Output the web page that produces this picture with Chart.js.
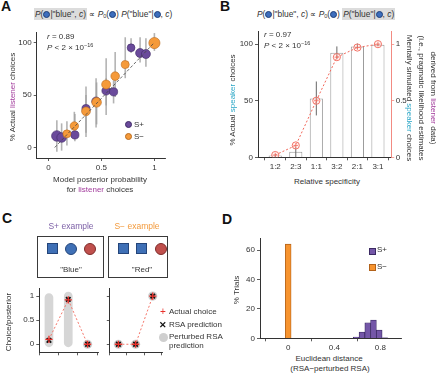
<!DOCTYPE html>
<html><head><meta charset="utf-8">
<script src="https://cdn.jsdelivr.net/npm/chart.js@4/dist/chart.umd.min.js"></script>
<style>
body{margin:0;width:440px;height:373px;position:relative;background:#fff;font-family:"Liberation Sans",Arial,Helvetica,sans-serif;color:#333;overflow:hidden}
canvas{position:absolute}
.t{position:absolute;font-size:8px;white-space:nowrap;line-height:1;color:#333}
.c{transform:translate(-50%,-50%)}
.rl{transform:translate(-50%,-50%) rotate(-90deg)}
.rr{transform:translate(-50%,-50%) rotate(90deg)}
.lt{position:absolute;font-weight:bold;font-size:14px;line-height:1;color:#111}
.hl{background:#dcdcdc;padding:1px 1px}
.bd{display:inline-block;width:7px;height:7px;border-radius:50%;background:#3d6ebd;border:0.6px solid #1e3f78;vertical-align:-1px;box-sizing:border-box}
.lis{color:#a23b9c}.spk{color:#2aa6c6}
sup{font-size:5.5px;vertical-align:3px}
sub{font-size:5.5px;vertical-align:-1px}
.box{position:absolute;border:1.2px solid #3a3a3a;box-sizing:border-box}
.sq{position:absolute;width:11px;height:11px;background:#3f70b6;border:0.6px solid #24457a;box-sizing:border-box}
.ci{position:absolute;width:12px;height:12px;border-radius:50%;box-sizing:border-box}
</style></head><body>
<!-- Panel letters -->
<div class="lt" style="left:1px;top:-1px">A</div>
<div class="lt" style="left:220px;top:-1px">B</div>
<div class="lt" style="left:2px;top:211px">C</div>
<div class="lt" style="left:222px;top:212px">D</div>

<!-- Headers -->
<div class="t" style="left:34px;top:10px;font-size:8.4px"><span class="hl"><i>P</i>(<span class="bd"></span>|"blue", <i>c</i>)</span> ∝ <i>P</i><sub>0</sub>(<span class="bd"></span>) <i>P</i>("blue"|<span class="bd"></span>, <i>c</i>)</div>
<div class="t" style="left:257px;top:10px;font-size:8.4px"><i>P</i>(<span class="bd"></span>|"blue", <i>c</i>) ∝ <i>P</i><sub>0</sub>(<span class="bd"></span>) <span class="hl"><i>P</i>("blue"|<span class="bd"></span>, <i>c</i>)</span></div>

<canvas id="cA" width="175" height="160" style="left:0;top:20px"></canvas>
<canvas id="cB" width="176" height="150" style="left:236px;top:22px"></canvas>
<canvas id="cC1" width="104" height="85" style="left:0;top:280px"></canvas>
<canvas id="cC2" width="64" height="85" style="left:104px;top:280px"></canvas>
<canvas id="cD" width="190" height="125" style="left:224px;top:228px"></canvas>

<!-- Panel A texts -->
<div class="t rl" style="left:13px;top:97px">% Actual <span class="lis">listener</span> choices</div>
<div class="t c" style="left:100px;top:180px">Model posterior probability</div>
<div class="t c" style="left:100px;top:190px">for <span class="lis">listener</span> choices</div>
<div class="t" style="left:47px;top:33px"><i>r</i> = 0.89</div>
<div class="t" style="left:47px;top:43px"><i>P</i> &lt; 2 × 10<sup>−16</sup></div>
<div class="ci" style="left:124.5px;top:121px;width:7px;height:7px;background:#6a4a9b;border:0.6px solid #3f2a66"></div>
<div class="t" style="left:134px;top:121px">S+</div>
<div class="ci" style="left:124.5px;top:133px;width:7px;height:7px;background:#f59a3a;border:0.6px solid #b86a1e"></div>
<div class="t" style="left:134px;top:133px">S−</div>

<!-- Panel B texts -->
<div class="t rl" style="left:233px;top:100px">% Actual <span class="spk">speaker</span> choices</div>
<div class="t c" style="left:327px;top:182px;color:#333">Relative specificity</div>
<div class="t" style="left:264px;top:31px"><i>r</i> = 0.97</div>
<div class="t" style="left:264px;top:41px"><i>P</i> &lt; 2 × 10<sup>−16</sup></div>
<div class="t rr" style="left:409px;top:98px">Mentally simulated <span class="spk">speaker</span> choices</div>
<div class="t rr" style="left:421px;top:98px">(i.e., pragmatic likelihood estimates</div>
<div class="t rr" style="left:433px;top:98px">derived from <span class="lis">listener</span> data)</div>

<!-- Panel C texts and illustrations -->
<div class="t c" style="left:71px;top:226px;font-size:8.5px;color:#7c5fa6">S+ example</div>
<div class="t c" style="left:137px;top:226px;font-size:8.5px;color:#f39a3c">S− example</div>
<div class="box" style="left:37px;top:236px;width:67px;height:42px"></div>
<div class="box" style="left:108px;top:236px;width:60px;height:42px"></div>
<div class="sq" style="left:46.5px;top:243px"></div>
<div class="ci" style="left:65px;top:243px;background:#3f70b6;border:0.6px solid #24457a"></div>
<div class="ci" style="left:84px;top:243px;background:#c0504d;border:0.6px solid #7e2c2a"></div>
<div class="t c" style="left:71px;top:270px">"Blue"</div>
<div class="sq" style="left:117.5px;top:243px"></div>
<div class="sq" style="left:136px;top:243px"></div>
<div class="ci" style="left:155px;top:243px;background:#c0504d;border:0.6px solid #7e2c2a"></div>
<div class="t c" style="left:142px;top:270px">"Red"</div>
<div class="t rl" style="left:9px;top:322px">Choice/posterior</div>
<div class="t c" style="left:163px;top:312px;color:#e8302a;font-size:10px">+</div>
<div class="t" style="left:169px;top:308px">Actual choice</div>
<div class="t c" style="left:163px;top:325px;color:#111;font-size:9px;font-weight:bold">✕</div>
<div class="t" style="left:169px;top:321px">RSA prediction</div>
<div class="ci" style="left:159px;top:332.5px;width:9px;height:9px;background:#cfcfcf"></div>
<div class="t" style="left:169px;top:333px">Perturbed RSA</div>
<div class="t" style="left:169px;top:342px">prediction</div>

<!-- Panel D texts -->
<div class="t rl" style="left:237px;top:290px">% Trials</div>
<div class="t c" style="left:329px;top:359px">Euclidean distance</div>
<div class="t c" style="left:330px;top:369px">(RSA−perturbed RSA)</div>
<div style="position:absolute;left:369px;top:247.5px;width:5px;height:5px;background:#7457a8;border:0.6px solid #3b2a63"></div>
<div class="t" style="left:377px;top:246px">S+</div>
<div style="position:absolute;left:369px;top:264px;width:5px;height:5px;background:#f7942f;border:0.6px solid #b2621a"></div>
<div class="t" style="left:377px;top:263px">S−</div>

<script>
// ---------- DATA ----------
// Panel A: listener choices vs model posterior
const aPlusX  = [0.08, 0.125, 0.25, 0.355, 0.45, 0.545, 0.615, 0.78, 0.865, 0.92];
const aPlusY  = [11, 9.5, 12, 37, 44, 54, 53, 95, 90, 89];
const aPlusLo = [-4, -3, 6, 14, 19, 31, 42, 90, 81, 77];
const aPlusHi = [26, 23, 32, 58, 66, 66, 64, 104, 105, 104];
const aMinusX  = [0.175, 0.245, 0.355, 0.455, 0.545, 0.63, 0.725, 1.0];
const aMinusY  = [13, 20.5, 34.5, 43, 60, 68, 79, 99.5];
const aMinusLo = [2, 8, 10, 22, 40, 48, 66, 92];
const aMinusHi = [25, 34, 50, 62, 85, 91, 105, 109];
const aFitX = [0.06, 1.0];
const aFitY = [0, 100];
const aXTicks = [0, 0.5, 1];
const aYTicks = [0, 50, 100];

// Panel B: speaker choices by relative specificity
const bCats   = ['1:2', '2:3', '1:1', '3:2', '2:1', '3:1'];
const bActual = [1.5, 5, 52, 92.5, 98, 99.5];
const bErrLo  = [0, 0, 37, 87, 96, 98.5];
const bErrHi  = [3, 9.5, 67, 98, 100.5, 100.5];
const bModel  = [0.02, 0.105, 0.5, 0.885, 0.97, 1.0];
const bYTicks = [0, 50, 100];
const bY2Ticks = [0, 0.5, 1];

// Panel C: examples (3 objects)
const cObjects = [0, 1, 2];
const cPlusActual  = [0.1, 0.92, 0];
const cPlusRSA     = [0.08, 0.93, 0];
const cPlusPertLo  = [-0.06, -0.06];   // perturbed cloud extent, objects 1-2
const cPlusPertHi  = [1.06, 1.09];
const cPlusPertPts = [0];              // object 3 perturbed value
const cMinusActual = [0, 0, 1];
const cMinusRSA    = [0, 0, 1];
const cMinusPert   = [0, 0, 1];
const cYTicks = [0, 0.5, 1];

// Panel D: histogram of distances
const dPlusBins  = [0.54, 0.59, 0.64, 0.69, 0.74, 0.79, 0.84];
const dPlusVals  = [0.2, 0.9, 4.2, 10.6, 12.4, 5.6, 0.3];
const dMinusBins = [0];
const dMinusVals = [64];
const dXTicks = [0, 0.4, 0.8];
const dYTicks = [0, 20, 40, 60];

// ---------- HELPERS ----------
Chart.defaults.font.family = '"Liberation Sans", Arial, Helvetica, sans-serif';
Chart.defaults.font.size = 8;
Chart.defaults.color = '#333';

function axis(o) {
  const isX = o.axis === 'x';
  return {
    type: 'linear', position: o.position || (isX ? 'bottom' : 'left'),
    min: o.min, max: o.max, offset: false,
    afterBuildTicks: s => { s.ticks = o.ticks.map(v => ({ value: v })); },
    afterFit: s => { if (isX) s.height = o.size; else s.width = o.size; },
    grid: { display: true, drawOnChartArea: false, drawTicks: true, tickLength: o.tickLength || 3,
            color: o.lineColor || '#333', lineWidth: 0.8 },
    border: { display: true, color: o.lineColor || '#333', width: 1 },
    ticks: { color: '#333', font: { size: 8 }, padding: o.pad ?? 2, maxRotation: 0, autoSkip: false,
             callback: o.fmt || (v => String(v)) }
  };
}

const errBars = {
  id: 'errbars',
  beforeDatasetsDraw(chart, a, opts) { drawErr(chart, opts, -1); },
  afterDatasetDraw(chart, args, opts) { drawErr(chart, opts, args.index); }
};
function drawErr(chart, opts, idx) {
  (opts.sets || []).forEach(s => {
    if (s.after !== idx) return;
    const xs = chart.scales[s.xAxis || 'x'], ys = chart.scales[s.yAxis || 'y'];
    const ctx = chart.ctx;
    ctx.save();
    ctx.strokeStyle = s.color; ctx.lineWidth = s.width; ctx.lineCap = 'butt';
    s.x.forEach((xv, i) => {
      const px = xs.getPixelForValue(xv);
      ctx.beginPath();
      ctx.moveTo(px, ys.getPixelForValue(Math.max(s.lo[i], ys.min)));
      ctx.lineTo(px, ys.getPixelForValue(Math.min(s.hi[i], ys.max)));
      ctx.stroke();
    });
    ctx.restore();
  });
}
const pts = (xs, ys) => xs.map((x, i) => ({ x, y: ys[i] }));
const base = { responsive: false, animation: false, events: [],
  plugins: { legend: { display: false }, tooltip: { enabled: false } } };

// ---------- PANEL A ----------
new Chart(document.getElementById('cA'), {
  type: 'scatter',
  data: { datasets: [
    { type: 'line', data: pts(aFitX, aFitY), borderColor: '#444', borderWidth: 0.8,
      borderDash: [3, 2], pointRadius: 0, order: 0 },
    { data: pts(aMinusX, aMinusY), backgroundColor: '#f59a3a', borderColor: '#b86a1e',
      borderWidth: 0.6, pointRadius: [4, 4.2, 4.4, 4.8, 4.5, 4.3, 4, 5.6], order: 1 },
    { data: pts(aPlusX, aPlusY), backgroundColor: '#6a4a9b', borderColor: '#3f2a66',
      borderWidth: 0.6, pointRadius: [5.3, 4.8, 4.1, 4.1, 4.3, 4.3, 4.1, 3.9, 4.5, 4.5], order: 2 }
  ]},
  options: Object.assign({}, base, {
    layout: { padding: { left: 0, right: 10, top: 12, bottom: 0 } },
    scales: {
      x: axis({ axis: 'x', min: -0.11, max: 1.1, ticks: aXTicks, size: 22 }),
      y: axis({ axis: 'y', min: -10, max: 110, ticks: aYTicks, size: 36.7 })
    },
    plugins: Object.assign({}, base.plugins, { errbars: { sets: [
      { x: aPlusX, lo: aPlusLo, hi: aPlusHi, color: 'rgba(160,160,160,0.8)', width: 1.6, after: -1 },
      { x: aMinusX, lo: aMinusLo, hi: aMinusHi, color: 'rgba(160,160,160,0.8)', width: 1.6, after: -1 }
    ]}})
  }),
  plugins: [errBars]
});

// ---------- PANEL B ----------
const bIdx = bCats.map((c, i) => i);
new Chart(document.getElementById('cB'), {
  type: 'bar',
  data: { datasets: [
    { type: 'bar', data: pts(bIdx, bActual), backgroundColor: '#fff', borderColor: '#9a9a9a',
      borderWidth: 1, barPercentage: 0.64, categoryPercentage: 1, yAxisID: 'y', order: 3 },
    { type: 'line', data: pts(bIdx, bModel), yAxisID: 'y2', borderColor: '#f2675a', borderWidth: 1,
      borderDash: [2, 2], pointRadius: 3.6, pointStyle: 'circle', pointBorderWidth: 0.9,
      pointBackgroundColor: 'rgba(255,235,230,0.35)', pointBorderColor: '#f2675a', order: 1 },
    { type: 'scatter', data: pts(bIdx, bModel), yAxisID: 'y2', pointStyle: 'cross', pointRadius: 2.4,
      borderColor: '#f2675a', borderWidth: 0.8, order: 0 }
  ]},
  options: Object.assign({}, base, {
    layout: { padding: { left: 0, right: 0, top: 9.7, bottom: 0 } },
    scales: {
      x: axis({ axis: 'x', min: -0.84, max: 5.67, ticks: bIdx, size: 14.7, fmt: v => bCats[v] ?? '' }),
      y: axis({ axis: 'y', min: 0, max: 111, ticks: bYTicks, size: 22 }),
      y2: axis({ axis: 'y2', position: 'right', min: 0, max: 1.11, ticks: bY2Ticks, size: 20.3,
                 lineColor: '#f28b82', tickLength: 2.5, pad: 1.5 })
    },
    plugins: Object.assign({}, base.plugins, { errbars: { sets: [
      { x: bIdx, lo: bErrLo, hi: bErrHi, color: '#666', width: 1, after: 0 }
    ]}})
  }),
  plugins: [errBars]
});

// ---------- PANEL C ----------
function cChart(id, pertBars, pertPts, actual, rsa, yw, rightPad, yLabels) {
  const ds = [];
  if (pertBars) ds.push({ type: 'bar', data: pertBars, backgroundColor: 'rgba(200,200,200,0.75)',
    borderWidth: 0, borderRadius: 5, borderSkipped: false, barPercentage: 0.45,
    categoryPercentage: 1, order: 5 });
  ds.push({ type: 'scatter', data: pertPts, pointRadius: 4.6, backgroundColor: 'rgba(195,195,195,0.85)',
    borderWidth: 0, order: 4 });
  ds.push({ type: 'line', data: pts(cObjects, actual), borderColor: '#f4766a', borderWidth: 1,
    borderDash: [2, 2], pointRadius: 0, order: 3 });
  ds.push({ type: 'scatter', data: pts(cObjects, rsa), pointStyle: 'crossRot', pointRadius: 3.2,
    borderColor: '#111', borderWidth: 1.8, order: 2 });
  ds.push({ type: 'scatter', data: pts(cObjects, actual), pointStyle: 'cross', pointRadius: 3.6,
    borderColor: '#e8302a', borderWidth: 1.3, order: 1 });
  return new Chart(document.getElementById(id), {
    type: 'bar', data: { datasets: ds },
    options: Object.assign({}, base, {
      layout: { padding: { left: 0, right: rightPad, top: 8, bottom: 0 } },
      scales: {
        x: axis({ axis: 'x', min: -0.5, max: 2.55, ticks: cObjects, size: 12.7, fmt: () => '' }),
        y: axis({ axis: 'y', min: -0.167, max: 1.167, ticks: cYTicks, size: yw,
                  fmt: yLabels ? (v => String(v)) : (() => '') })
      }
    })
  });
}
cChart('cC1', cPlusPertLo.map((lo, i) => ({ x: cObjects[i], y: [lo, cPlusPertHi[i]] })),
       cPlusPertPts.map((v, i) => ({ x: cObjects[2 + i], y: v })),
       cPlusActual, cPlusRSA, 39.3, 4, true);
cChart('cC2', null, pts(cObjects, cMinusPert), cMinusActual, cMinusRSA, 4.3, 4.7, false);

// ---------- PANEL D ----------
new Chart(document.getElementById('cD'), {
  type: 'bar',
  data: { datasets: [
    { data: pts(dPlusBins, dPlusVals), backgroundColor: '#7457a8', borderColor: '#3b2a63',
      borderWidth: 0.8, grouped: false, barPercentage: 1, categoryPercentage: 1 },
    { data: pts(dMinusBins, dMinusVals), backgroundColor: '#f7942f', borderColor: '#b2621a',
      borderWidth: 0.8, grouped: false, barPercentage: 1, categoryPercentage: 1 }
  ]},
  options: Object.assign({}, base, {
    layout: { padding: { left: 0, right: 12.3, top: 10.3, bottom: 0 } },
    scales: {
      x: axis({ axis: 'x', min: -0.245, max: 0.985, ticks: dXTicks, size: 14.7 }),
      y: axis({ axis: 'y', min: 0, max: 68, ticks: dYTicks, size: 36 })
    }
  })
});
</script>
</body></html>
